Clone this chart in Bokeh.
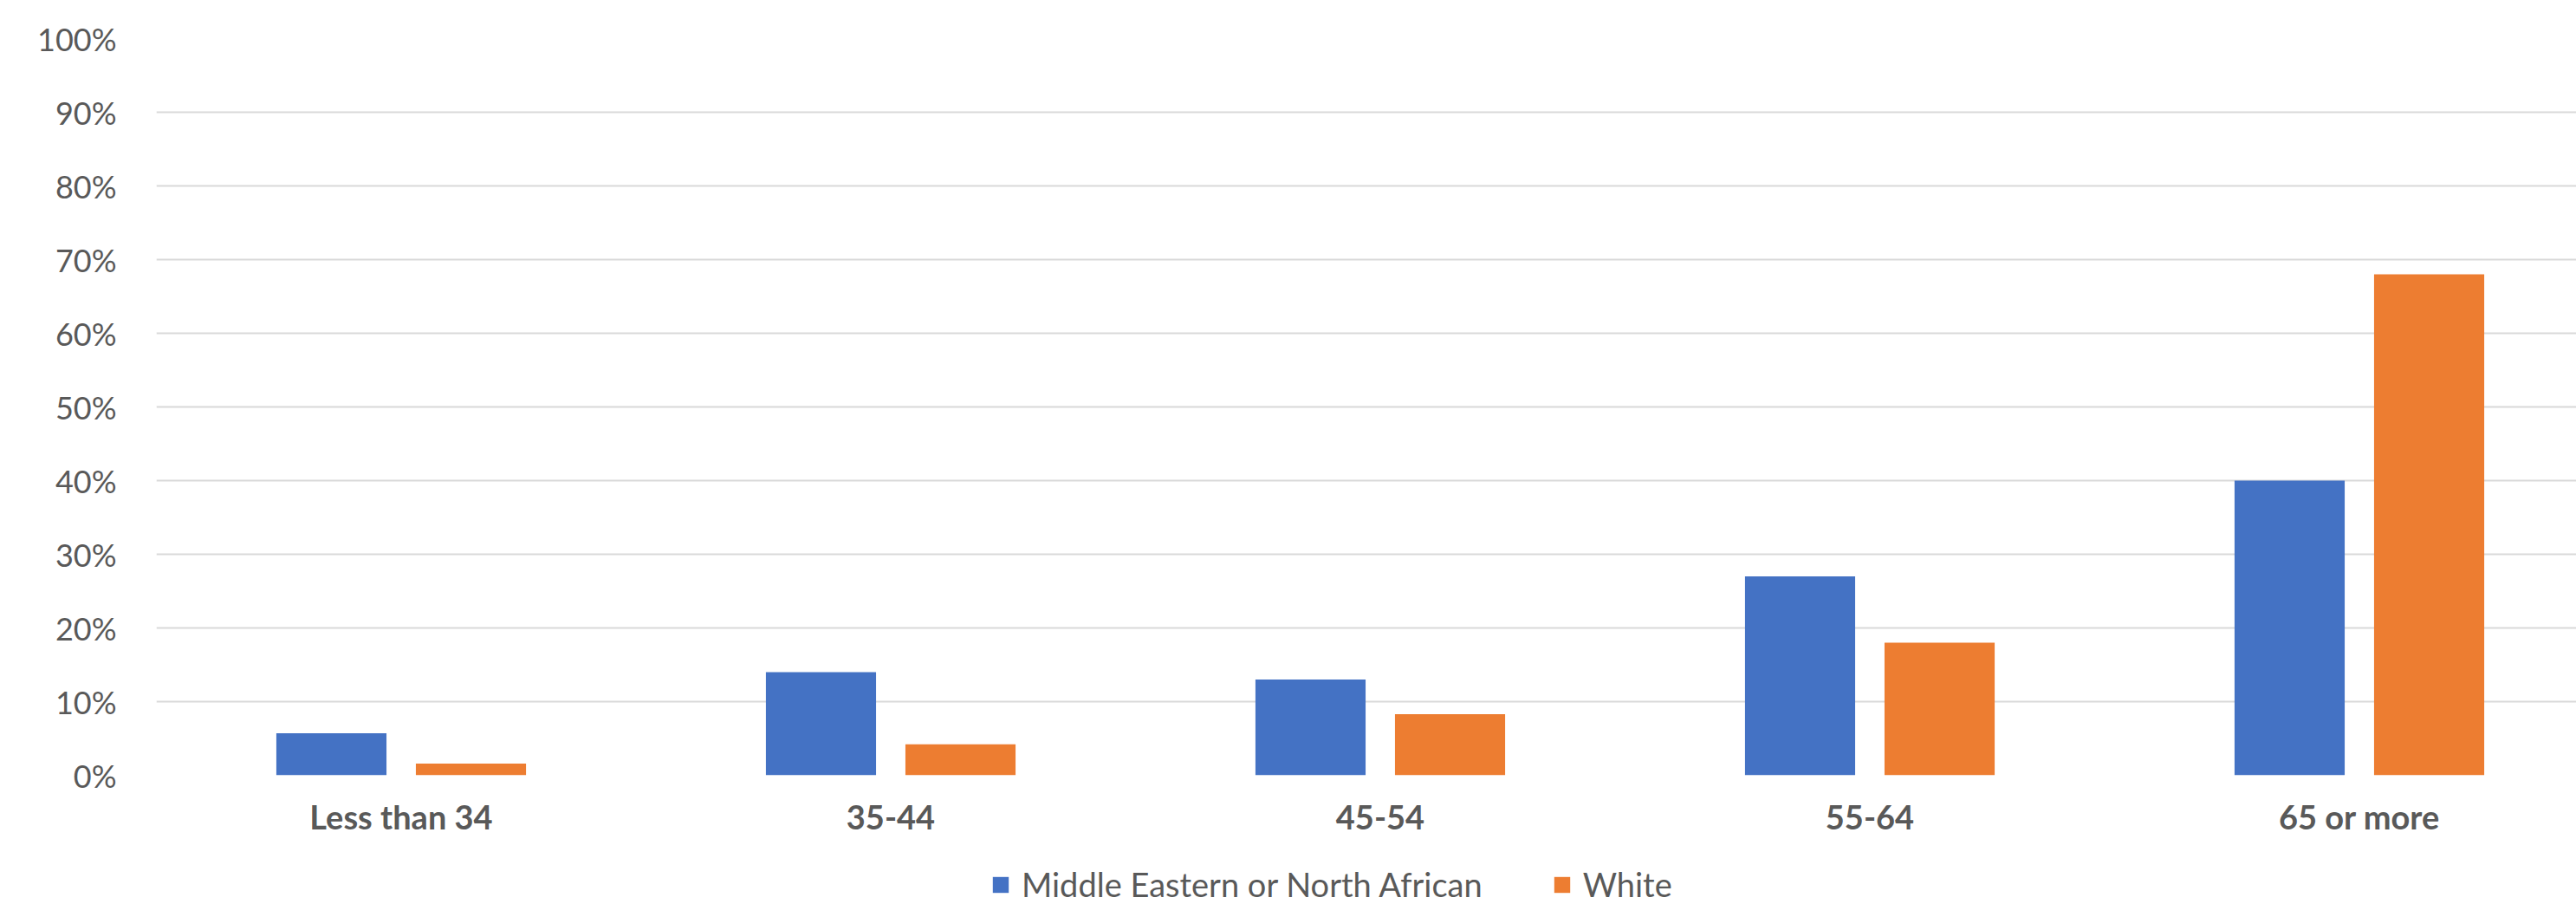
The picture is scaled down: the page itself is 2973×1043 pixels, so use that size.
from bokeh.plotting import figure
from bokeh.models import Range1d, FixedTicker, Legend, LegendItem, ColumnDataSource
from bokeh.layouts import column
from bokeh.embed import file_html
from bokeh.resources import INLINE

categories = ["Less than 34", "35-44", "45-54", "55-64", "65 or more"]
mena = [5.7, 14.0, 13.0, 27.0, 40.0]
white = [1.6, 4.2, 8.3, 18.0, 68.0]
series_names = ["Middle Eastern or North African", "White"]
y_ticks = [0, 10, 20, 30, 40, 50, 60, 70, 80, 90, 100]

BLUE = "#4472C4"
ORANGE = "#ED7D31"
TXT = "#595959"
GRID = "#D9D9D9"
FONT = "Lato"

W, H = 2973, 1043
left, top, bottom1 = 180, 44, 100
fw, fh = W - left, 850
h2 = H - top - fh - bottom1
cat_px = 565.0
x_end = fw / cat_px

p = figure(frame_width=fw, frame_height=fh, output_backend="svg", toolbar_location=None,
           x_range=Range1d(0, x_end), y_range=Range1d(0, 100),
           min_border_left=left, min_border_right=0, min_border_top=top,
           min_border_bottom=bottom1)
p.outline_line_color = None
p.background_fill_color = "white"
p.border_fill_color = "white"

xc = [i + 0.5 for i in range(len(categories))]
off = 0.1425
bw = 0.225
src = ColumnDataSource(dict(xb=[x - off for x in xc], xo=[x + off for x in xc], mena=mena, white=white))
r1 = p.vbar(x="xb", top="mena", width=bw, source=src, fill_color=BLUE, line_color=None)
r2 = p.vbar(x="xo", top="white", width=bw, source=src, fill_color=ORANGE, line_color=None)

p.yaxis.ticker = FixedTicker(ticks=y_ticks)
p.yaxis.major_label_overrides = {t: f"{t}%" for t in y_ticks}
p.yaxis.axis_line_color = None
p.yaxis.major_tick_line_color = None
p.yaxis.minor_tick_line_color = None
p.yaxis.major_label_standoff = 40
p.yaxis.major_label_text_font = FONT
p.yaxis.major_label_text_font_size = "36px"
p.yaxis.major_label_text_color = TXT

p.xaxis.ticker = FixedTicker(ticks=xc)
p.xaxis.major_label_overrides = {x: c for x, c in zip(xc, categories)}
p.xaxis.axis_line_color = None
p.xaxis.major_tick_line_color = None
p.xaxis.minor_tick_line_color = None
p.xaxis.major_label_standoff = 18
p.xaxis.major_label_text_font = FONT
p.xaxis.major_label_text_font_style = "bold"
p.xaxis.major_label_text_font_size = "38px"
p.xaxis.major_label_text_color = TXT

p.xgrid.grid_line_color = None
p.ygrid.grid_line_color = GRID
p.ygrid.grid_line_width = 2

# legend strip below the chart (proxy renderers sit outside the visible range)
q = figure(frame_width=W, frame_height=h2, output_backend="svg", toolbar_location=None,
           x_range=Range1d(0, 1), y_range=Range1d(0, 1),
           min_border_left=0, min_border_right=0, min_border_top=0, min_border_bottom=0)
q.outline_line_color = None
q.axis.visible = False
q.grid.visible = False
q.background_fill_color = "white"
q.border_fill_color = "white"
proxy = ColumnDataSource(dict(x=[-5.0], top=[0.0]))
d1 = q.vbar(x="x", top="top", width=0.1, source=proxy, fill_color=BLUE, line_color=None)
d2 = q.vbar(x="x", top="top", width=0.1, source=proxy, fill_color=ORANGE, line_color=None)

legend = Legend(items=[LegendItem(label=series_names[0], renderers=[d1]),
                       LegendItem(label=series_names[1], renderers=[d2])],
                orientation="horizontal", location=(1143, 0),
                glyph_width=23, glyph_height=23, label_standoff=13, spacing=80,
                padding=0, margin=0, border_line_color=None, background_fill_alpha=0,
                label_text_font=FONT, label_text_font_size="38px", label_text_color=TXT)
q.add_layout(legend, "center")

layout = column(p, q, spacing=0)
open("out.html", "w").write(file_html(layout, INLINE))
